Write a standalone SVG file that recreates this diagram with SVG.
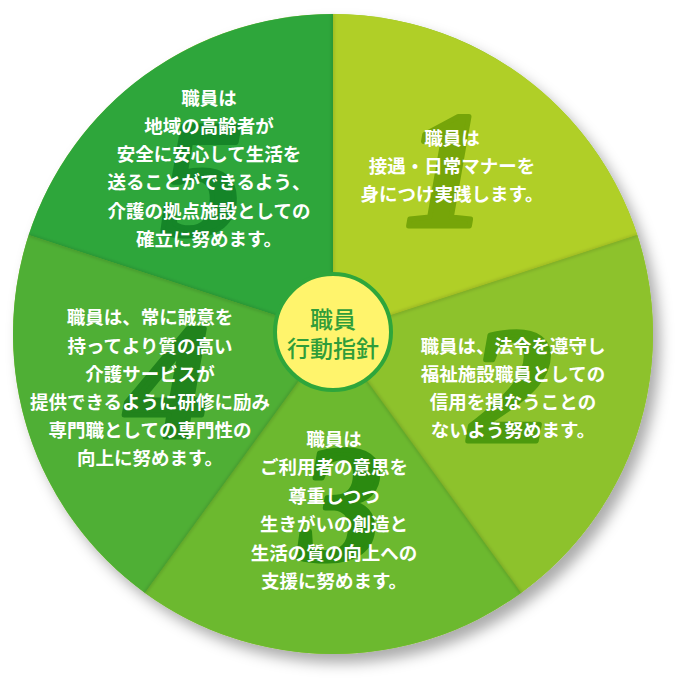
<svg xmlns="http://www.w3.org/2000/svg" width="685" height="685" viewBox="0 0 685 685">
<defs>
<filter id="shadow" x="-10%" y="-10%" width="125%" height="125%">
<feDropShadow dx="7" dy="9" stdDeviation="7" flood-color="#000" flood-opacity="0.33"/>
</filter>
<filter id="soft" x="-5%" y="-5%" width="110%" height="110%">
<feGaussianBlur stdDeviation="1.5"/>
</filter>
<style>
.t{font-family:"Noto Sans CJK JP","Noto Sans",sans-serif;font-weight:700;font-size:18.5px;fill:#fff;text-anchor:middle;dominant-baseline:central}
.n{font-family:"Liberation Serif","DejaVu Serif",serif;font-style:italic;font-weight:700;font-size:165px;text-anchor:middle;stroke-width:5;stroke-linejoin:round}
.c{font-family:"Noto Sans CJK JP","Noto Sans",sans-serif;font-weight:500;font-size:23px;fill:#2f9d3a;text-anchor:middle;dominant-baseline:central}
.sep{stroke:#000;stroke-opacity:0.12;stroke-width:3;fill:none}
</style>
</defs>
<rect width="685" height="685" fill="#fff"/>
<circle cx="333" cy="334" r="320" fill="#8dc22c" filter="url(#shadow)"/>
<g id="seg1">
<path d="M333,334 L333,14 A320,320 0 0 1 637.34,235.11 Z" fill="#b0cf27"/>
<text class="n" x="446" y="226" fill="#76a509" stroke="#76a509">1</text>
<text class="t" x="452" y="137">職員は</text>
<text class="t" x="452" y="165">接遇・日常マナーを</text>
<text class="t" x="452" y="193">身につけ実践します。</text>
</g>
<g id="seg2">
<path d="M333,334 L637.34,235.11 A320,320 0 0 1 521.09,592.89 Z" fill="#8dc22c"/>
<text class="n" x="511" y="441" fill="#4c9a0e" stroke="#4c9a0e">2</text>
<text class="t" x="513" y="345">職員は、法令を遵守し</text>
<text class="t" x="513" y="373">福祉施設職員としての</text>
<text class="t" x="513" y="401">信用を損なうことの</text>
<text class="t" x="513" y="429">ないよう努めます。</text>
</g>
<g id="seg3">
<path d="M333,334 L521.09,592.89 A320,320 0 0 1 144.91,592.89 Z" fill="#6cb92f"/>
<text class="n" x="341" y="559" fill="#2b8a10" stroke="#2b8a10">3</text>
<text class="t" x="334" y="438">職員は</text>
<text class="t" x="334" y="466">ご利用者の意思を</text>
<text class="t" x="334" y="495">尊重しつつ</text>
<text class="t" x="334" y="523">生きがいの創造と</text>
<text class="t" x="334" y="552">生活の質の向上への</text>
<text class="t" x="334" y="580">支援に努めます。</text>
</g>
<g id="seg4">
<path d="M333,334 L144.91,592.89 A320,320 0 0 1 28.66,235.11 Z" fill="#4faf35"/>
<text class="n" x="168" y="437" fill="#21831c" stroke="#21831c">4</text>
<text class="t" x="150" y="316">職員は、常に誠意を</text>
<text class="t" x="150" y="345">持ってより質の高い</text>
<text class="t" x="150" y="373">介護サービスが</text>
<text class="t" x="150" y="401">提供できるように研修に励み</text>
<text class="t" x="150" y="429">専門職としての専門性の</text>
<text class="t" x="150" y="457">向上に努めます。</text>
</g>
<g id="seg5">
<path d="M333,334 L28.66,235.11 A320,320 0 0 1 333,14 Z" fill="#2ea63b"/>
<text class="n" x="202" y="234" fill="#158528" stroke="#158528">5</text>
<text class="t" x="209" y="97">職員は</text>
<text class="t" x="209" y="125">地域の高齢者が</text>
<text class="t" x="209" y="153">安全に安心して生活を</text>
<text class="t" x="209" y="181">送ることができるよう、</text>
<text class="t" x="209" y="210">介護の拠点施設としての</text>
<text class="t" x="209" y="238">確立に努めます。</text>
</g>
<g id="separators" filter="url(#soft)">
<line class="sep" x1="333" y1="334" x2="333" y2="14"/>
<line class="sep" x1="333" y1="334" x2="637.34" y2="235.11"/>
<line class="sep" x1="333" y1="334" x2="521.09" y2="592.89"/>
<line class="sep" x1="333" y1="334" x2="144.91" y2="592.89"/>
<line class="sep" x1="333" y1="334" x2="28.66" y2="235.11"/>
</g>
<g id="center">
<circle cx="333" cy="332" r="58" fill="#fff46c" stroke="#2ea63b" stroke-width="4"/>
<text class="c" x="333" y="318">職員</text>
<text class="c" x="333" y="347">行動指針</text>
</g>
</svg>
